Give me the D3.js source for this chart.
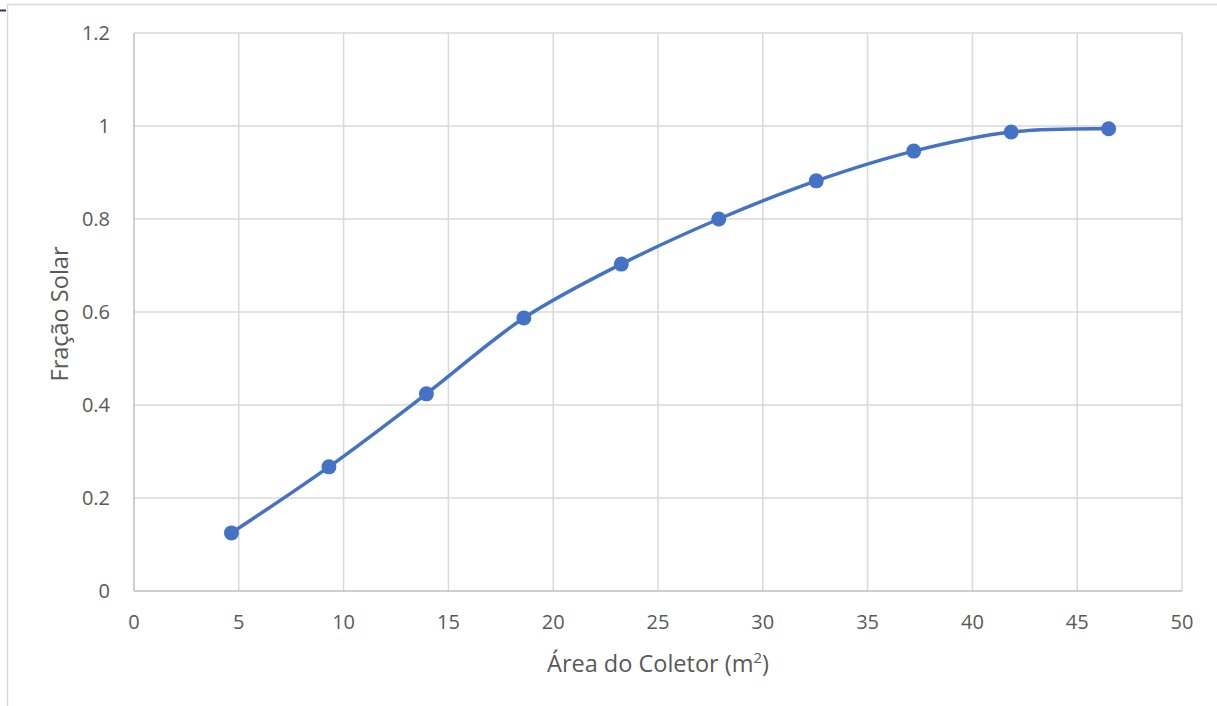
<!DOCTYPE html>
<html>
<head>
<meta charset="utf-8">
<script src="https://cdn.jsdelivr.net/npm/d3@7"></script>
<style>
  html, body { margin: 0; padding: 0; background: #fff; }
  svg { display: block; }
  text { font-family: "Open Sans", sans-serif; fill: #595959; }
</style>
</head>
<body>
<svg id="chart" width="1217" height="706"></svg>
<script>
// Collector area (m²) and resulting solar fraction
const areas = [4.65, 9.3, 13.95, 18.6, 23.25, 27.9, 32.55, 37.2, 41.85, 46.5];
const fractions = [0.125, 0.267, 0.424, 0.587, 0.703, 0.800, 0.882, 0.946, 0.987, 0.994];
const xTicks = [0, 5, 10, 15, 20, 25, 30, 35, 40, 45, 50];
const yTicks = [0, 0.2, 0.4, 0.6, 0.8, 1, 1.2];

const svg = d3.select("#chart");
const W = 1217, H = 706;
const m = { left: 134, right: 1182, top: 33, bottom: 591 };

// outer chart frame
svg.append("line").attr("x1", 7.5).attr("x2", 7.5).attr("y1", 4).attr("y2", H)
  .attr("stroke", "#d9d9d9").attr("stroke-width", 1.5);
svg.append("line").attr("x1", 7).attr("x2", W).attr("y1", 4.5).attr("y2", 4.5)
  .attr("stroke", "#d9d9d9").attr("stroke-width", 1.5);
svg.append("line").attr("x1", 0).attr("x2", 6).attr("y1", 10.5).attr("y2", 10.5)
  .attr("stroke", "#1f3864").attr("stroke-width", 2);

const x = d3.scaleLinear().domain([0, 50]).range([m.left, m.right]);
const y = d3.scaleLinear().domain([0, 1.2]).range([m.bottom, m.top]);

// gridlines
svg.append("g").selectAll("line").data(xTicks.slice(1)).join("line")
  .attr("x1", d => x(d)).attr("x2", d => x(d))
  .attr("y1", m.top).attr("y2", m.bottom)
  .attr("stroke", "#d9d9d9").attr("stroke-width", 1.5);
svg.append("g").selectAll("line").data(yTicks.slice(1)).join("line")
  .attr("x1", m.left).attr("x2", m.right)
  .attr("y1", d => y(d)).attr("y2", d => y(d))
  .attr("stroke", "#d9d9d9").attr("stroke-width", 1.5);

// axes lines
svg.append("line").attr("x1", m.left).attr("x2", m.left).attr("y1", m.top).attr("y2", m.bottom)
  .attr("stroke", "#bfbfbf").attr("stroke-width", 1.5);
svg.append("line").attr("x1", m.left).attr("x2", m.right).attr("y1", m.bottom).attr("y2", m.bottom)
  .attr("stroke", "#bfbfbf").attr("stroke-width", 1.5);

// tick labels
svg.append("g").selectAll("text").data(xTicks).join("text")
  .attr("x", d => x(d)).attr("y", 629)
  .attr("text-anchor", "middle").attr("font-size", 20)
  .text(d => d);
svg.append("g").selectAll("text").data(yTicks).join("text")
  .attr("x", 110).attr("y", d => y(d) + 7)
  .attr("text-anchor", "end").attr("font-size", 20)
  .text(d => d);

// axis titles
const xt = svg.append("text").attr("x", 658).attr("y", 672)
  .attr("text-anchor", "middle").attr("font-size", 23.5);
xt.append("tspan").text("Área do Coletor (m");
xt.append("tspan").attr("font-size", 15).attr("dy", -9).text("2");
xt.append("tspan").attr("dy", 9).text(")");

svg.append("text")
  .attr("transform", "translate(68,314) rotate(-90)")
  .attr("text-anchor", "middle").attr("font-size", 23.5)
  .text("Fração Solar");

// series
const pts = areas.map((a, i) => [a, fractions[i]]);
const line = d3.line().x(d => x(d[0])).y(d => y(d[1])).curve(d3.curveCatmullRom.alpha(0.5));
svg.append("path").datum(pts).attr("d", line)
  .attr("fill", "none").attr("stroke", "#4472c4").attr("stroke-width", 3.5)
  .attr("stroke-linejoin", "round").attr("stroke-linecap", "round");
svg.append("g").selectAll("circle").data(pts).join("circle")
  .attr("cx", d => x(d[0])).attr("cy", d => y(d[1])).attr("r", 7.5)
  .attr("fill", "#4472c4");
</script>
</body>
</html>
